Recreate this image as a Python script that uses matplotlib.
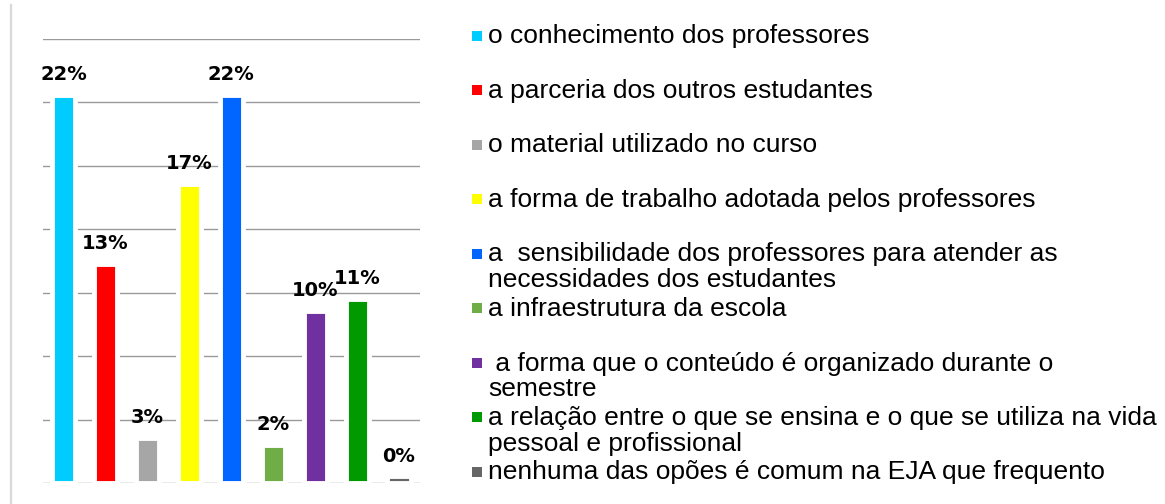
import numpy as np
import matplotlib
matplotlib.use("Agg")
import matplotlib.pyplot as plt

# data (fractions)
categorias = [
    "o conhecimento dos professores",
    "a parceria dos outros estudantes",
    "o material utilizado no curso",
    "a forma de trabalho adotada pelos professores",
    "a  sensibilidade dos professores para atender as\nnecessidades dos estudantes",
    "a infraestrutura da escola",
    " a forma que o conteúdo é organizado durante o\nsemestre",
    "a relação entre o que se ensina e o que se utiliza na vida\npessoal e profissional",
    "nenhuma das opões é comum na EJA que frequento",
]
valores = [0.223, 0.126, 0.026, 0.172, 0.223, 0.022, 0.099, 0.106, 0.004]
cores = ["#00CCFF", "#FF0000", "#A6A6A6", "#FFFF00", "#0066FF",
         "#70AD47", "#7030A0", "#009900", "#666666"]
passo = 0.0365

W, H = 1165, 504
fig = plt.figure(figsize=(W / 100, H / 100), dpi=100)

# overlay in pixel coords for the legend and the frame line
leg = fig.add_axes([0, 0, 1, 1])
leg.set_xlim(0, W)
leg.set_ylim(H, 0)
leg.axis("off")
leg.plot([10.5, 10.5], [5, H], color="#d9d9d9", lw=1.6)

for i, (nome, cor) in enumerate(zip(categorias, cores)):
    y = 36.5 + i * 54.5
    leg.scatter([476.5], [y - 1], marker="s", s=42, color=cor, linewidths=0)
    # one text per line so the first line sits on the row
    for k, linha in enumerate(nome.split("\n")):
        leg.text(488, y + 7 + k * 25.5, linha, fontsize=19,
                 family="Liberation Sans", va="baseline", ha="left",
                 color="black")

# bar chart
ax = fig.add_axes([42.5 / W, 1 - 483.3 / H, (420 - 42.5) / W, (483.3 - 38.5) / H])
x = np.arange(len(valores))
ax.bar(x, valores, width=0.55, color=cores, edgecolor="white",
       linewidth=3.5, zorder=3)
for xi, v in zip(x, valores):
    ax.annotate(f"{v:.0%}", (xi, v), xytext=(0, 10.6), textcoords="offset points",
                ha="center", va="baseline", fontsize=14, fontweight="bold",
                family="DejaVu Sans", zorder=4)

ax.set_xlim(-0.5, len(valores) - 0.5)
ax.set_ylim(0, 7 * passo)
ax.set_yticks(np.arange(8) * passo)
ax.yaxis.grid(True, color="#9a9a9a", lw=1.0, zorder=0)
ax.set_xticks([])
ax.tick_params(axis="y", length=0, labelleft=False)
for s in ax.spines.values():
    s.set_visible(False)
ax.patch.set_alpha(0)

fig.savefig("out.png", dpi=100, facecolor="white")
